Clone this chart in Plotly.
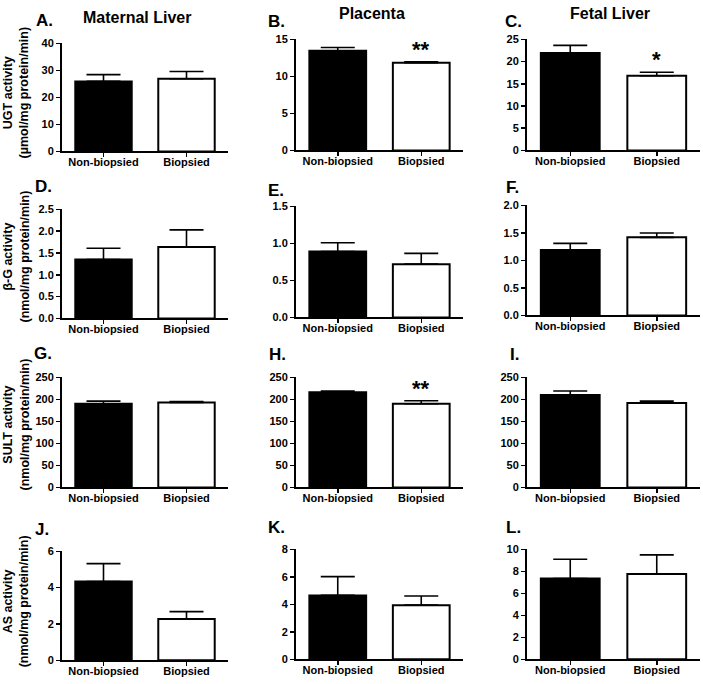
import plotly.graph_objects as go

W, H = 703, 684

categories = ["Non-biopsied", "Biopsied"]

# Means and SEM (upward error) per panel
ugt_maternal = [25.9, 26.9]
ugt_maternal_err = [2.5, 2.7]
ugt_placenta = [13.45, 11.85]
ugt_placenta_err = [0.45, 0.13]
ugt_fetal = [21.95, 16.8]
ugt_fetal_err = [1.7, 0.8]

bg_maternal = [1.35, 1.64]
bg_maternal_err = [0.26, 0.39]
bg_placenta = [0.89, 0.72]
bg_placenta_err = [0.12, 0.145]
bg_fetal = [1.19, 1.42]
bg_fetal_err = [0.12, 0.08]

sult_maternal = [190, 193]
sult_maternal_err = [6, 2]
sult_placenta = [216, 190]
sult_placenta_err = [3, 7]
sult_fetal = [210, 192]
sult_fetal_err = [9, 4]

as_maternal = [4.34, 2.27]
as_maternal_err = [0.98, 0.41]
as_placenta = [4.65, 3.94]
as_placenta_err = [1.36, 0.66]
as_fetal = [7.34, 7.76]
as_fetal_err = [1.76, 1.73]

panel_letters = ["A.", "B.", "C.", "D.", "E.", "F.", "G.", "H.", "I.", "J.", "K.", "L."]
column_titles = ["Maternal Liver", "Placenta", "Fetal Liver"]
row_titles = [
    "UGT activity<br>(µmol/mg protein/min)",
    "β-G activity<br>(nmol/mg protein/min)",
    "SULT activity<br>(nmol/mg protein/min)",
    "AS activity<br>(nmol/mg protein/min)",
]
y_max = [40, 15, 25, 2.5, 1.5, 2.0, 250, 250, 250, 6, 8, 10]
y_dtick = [10, 5, 5, 0.5, 0.5, 0.5, 50, 50, 50, 2, 2, 2]
y_fmt = ["", "", "", ".1f", ".1f", ".1f", "", "", "", "", "", ""]
stars = ["", "**", "*", "", "", "", "", "**", "", "", "", ""]

values = [ugt_maternal, ugt_placenta, ugt_fetal,
          bg_maternal, bg_placenta, bg_fetal,
          sult_maternal, sult_placenta, sult_fetal,
          as_maternal, as_placenta, as_fetal]
errors = [ugt_maternal_err, ugt_placenta_err, ugt_fetal_err,
          bg_maternal_err, bg_placenta_err, bg_fetal_err,
          sult_maternal_err, sult_placenta_err, sult_fetal_err,
          as_maternal_err, as_placenta_err, as_fetal_err]

# layout geometry in pixels
col_x = [(62, 228), (296, 463), (527, 700)]
panel_y = [(38, 148), (34, 147), (34, 147),
           (207, 318), (204, 317), (203, 315),
           (378, 490), (378, 490), (378, 490),
           (555, 666), (553, 665), (553, 665)]
letter_pos = [(44, 15), (276, 16), (513, 16),
              (43, 184), (276, 188), (512, 185),
              (43, 354), (277, 355), (514, 355),
              (42, 533), (276, 531), (513, 531)]
title_pos = [(137, 12), (372, 8), (610, 8)]
ytitle_y = [88, 255, 426, 606]

def px_x(p):
    return p / W

def px_y(p):
    return 1 - p / H

FONT = "Liberation Sans, Arial, sans-serif"

fig = go.Figure()
annotations = []
layout = {}

for i in range(12):
    r, c = divmod(i, 3)
    n = "" if i == 0 else str(i + 1)
    xa, ya = "x" + n, "y" + n
    fig.add_trace(go.Bar(
        x=categories, y=values[i],
        xaxis=xa, yaxis=ya,
        width=0.68,
        marker=dict(color=["black", "white"], line=dict(color="black", width=2)),
        error_y=dict(type="data", symmetric=False, array=errors[i],
                     arrayminus=[0, 0], color="black", thickness=1.6, width=17),
        showlegend=False,
    ))
    x0, x1 = col_x[c]
    y0, y1 = panel_y[i]
    layout["xaxis" + n] = dict(
        domain=[px_x(x0), px_x(x1)], anchor=ya,
        range=[-0.5, 1.5], showline=True, linecolor="black", linewidth=2,
        ticks="outside", ticklen=4, tickwidth=1.5, tickcolor="black",
        ticklabelstandoff=-5,
        tickfont=dict(family=FONT, size=11, color="black", weight="bold"),
        showgrid=False, zeroline=False, fixedrange=True,
    )
    layout["yaxis" + n] = dict(
        domain=[px_y(y1), px_y(y0)], anchor=xa,
        range=[0, y_max[i]], dtick=y_dtick[i], tick0=0, tickformat=y_fmt[i],
        showline=True, linecolor="black", linewidth=2,
        ticks="outside", ticklen=4, tickwidth=1.5, tickcolor="black",
        tickfont=dict(family=FONT, size=11, color="black", weight="bold"),
        showgrid=False, zeroline=False, fixedrange=True,
    )
    lx, ly = letter_pos[i]
    annotations.append(dict(
        text=panel_letters[i], x=px_x(lx), y=px_y(ly), xref="paper", yref="paper",
        xanchor="center", yanchor="middle", showarrow=False,
        font=dict(family=FONT, size=17, color="black", weight="bold"),
    ))
    if stars[i]:
        annotations.append(dict(
            text=stars[i], x=categories[1], y=values[i][1] + errors[i][1],
            xref=xa, yref=ya, xanchor="center", yanchor="bottom", showarrow=False,
            yshift=-2,
            font=dict(family=FONT, size=22, color="black", weight="bold"),
        ))

for c in range(3):
    tx, ty = title_pos[c]
    annotations.append(dict(
        text=column_titles[c], x=px_x(tx), y=px_y(ty), xref="paper", yref="paper",
        xanchor="center", yanchor="middle", showarrow=False,
        font=dict(family=FONT, size=16, color="black", weight="bold"),
    ))

for r in range(4):
    annotations.append(dict(
        text=row_titles[r], x=px_x(16), y=px_y(ytitle_y[r]), xref="paper", yref="paper",
        xanchor="center", yanchor="middle", showarrow=False, textangle=-90,
        font=dict(family=FONT, size=12.5, color="black", weight="bold"),
    ))

fig.update_layout(
    width=W, height=H, margin=dict(l=0, r=0, t=0, b=0),
    paper_bgcolor="white", plot_bgcolor="white",
    annotations=annotations, bargap=0, **layout,
)

fig.write_html(
    "out.html",
    config={"displayModeBar": False, "staticPlot": True},
    post_script="document.body.style.margin='0';document.body.style.overflow='hidden';",
)
